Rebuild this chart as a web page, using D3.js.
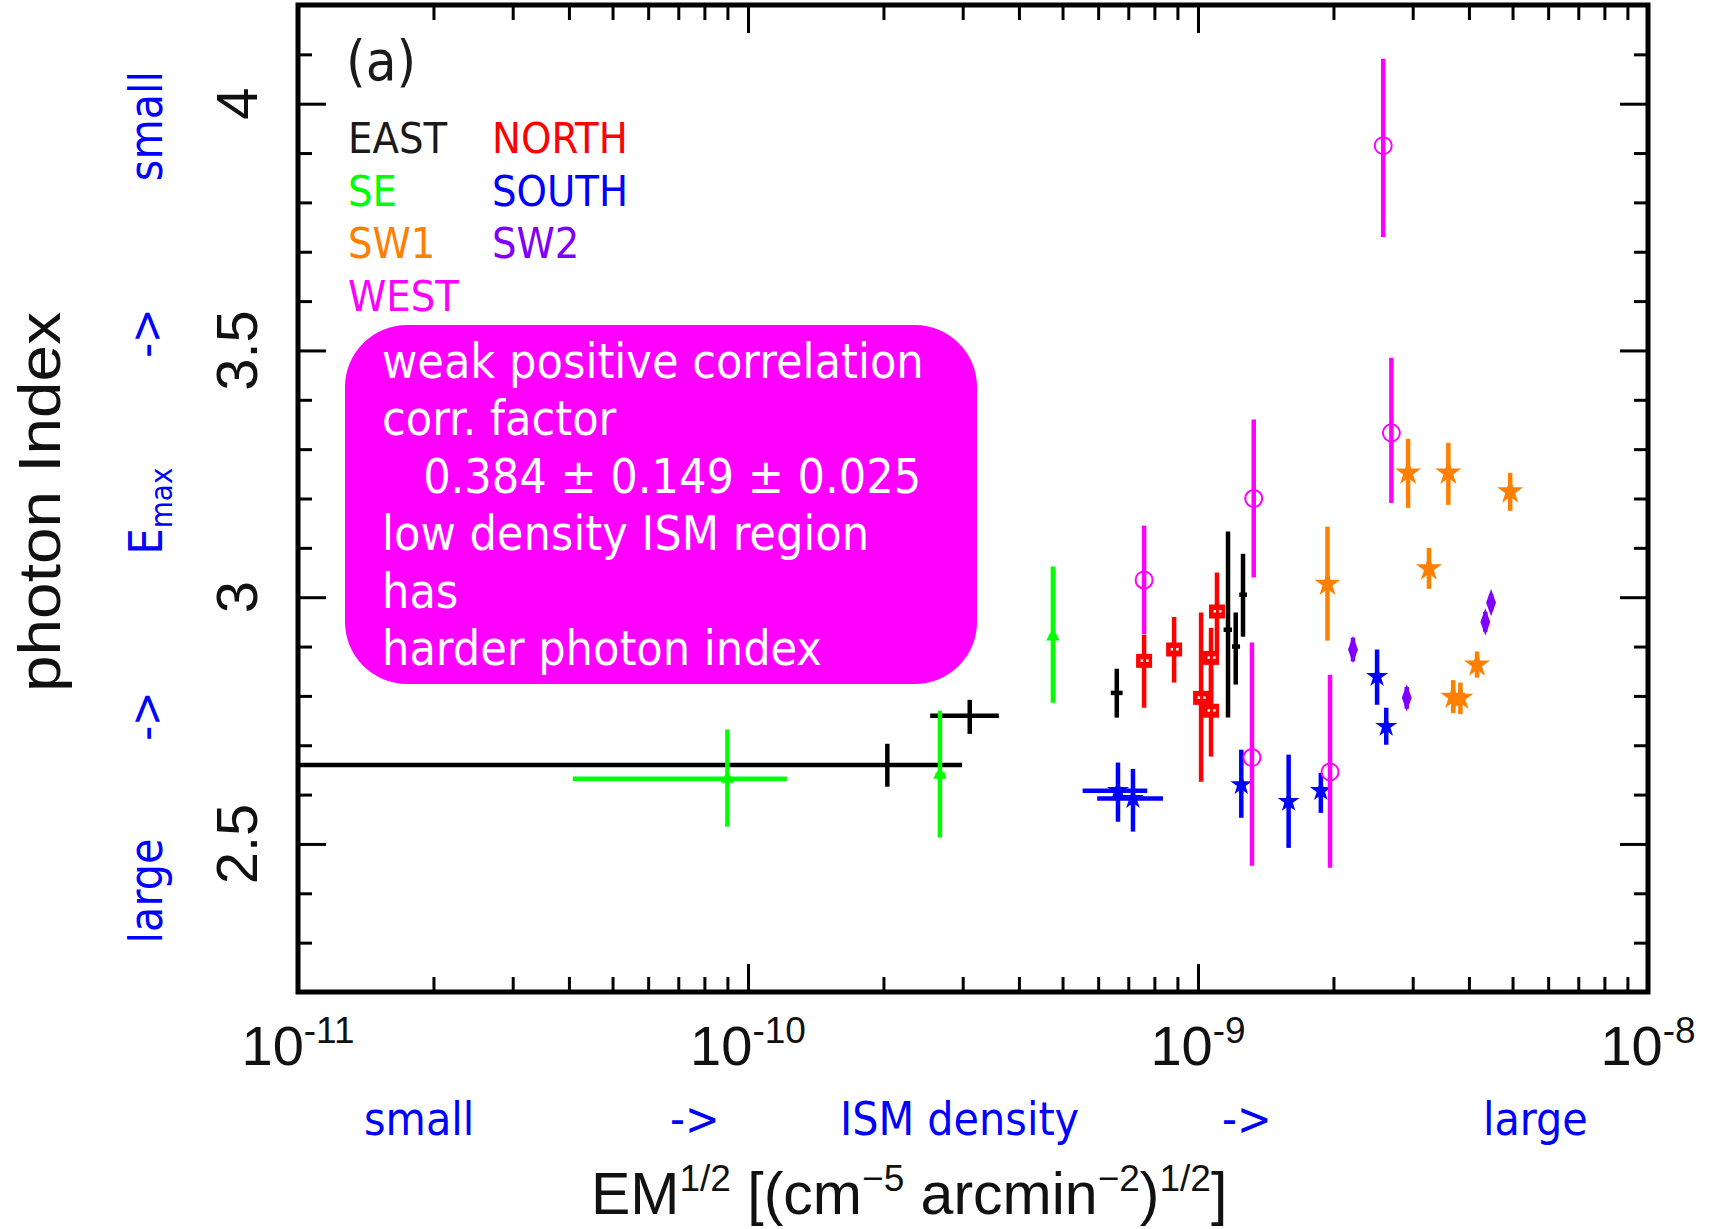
<!DOCTYPE html>
<html>
<head>
<meta charset="utf-8">
<script src="https://cdn.jsdelivr.net/npm/d3@7"></script>
<style>
body { margin: 0; background: #fff; }
</style>
</head>
<body>
<svg id="chart" width="1716" height="1229"></svg>
<script>
// each row: [x, xlo, xhi, y, ylo, yhi]
var east = [
    [2.04e-10, 5e-12, 2.99e-10, 2.660, 2.616, 2.703],
    [3.11e-10, 2.54e-10, 3.61e-10, 2.760, 2.723, 2.792],
    [6.60e-10, 6.40e-10, 6.80e-10, 2.806, 2.756, 2.855],
    [1.166e-9, 1.14e-9, 1.19e-9, 2.934, 2.756, 3.133],
    [1.213e-9, 1.19e-9, 1.24e-9, 2.900, 2.823, 2.969],
    [1.259e-9, 1.235e-9, 1.285e-9, 3.005, 2.920, 3.088]
];
var north = [
    [7.59e-10, 7.40e-10, 7.75e-10, 2.871, 2.776, 2.924],
    [8.85e-10, 8.65e-10, 9.05e-10, 2.894, 2.827, 2.960],
    [1.016e-9, 0.99e-9, 1.04e-9, 2.796, 2.626, 2.969],
    [1.069e-9, 1.045e-9, 1.09e-9, 2.877, 2.792, 2.938],
    [1.069e-9, 1.045e-9, 1.09e-9, 2.770, 2.677, 2.857],
    [1.102e-9, 1.08e-9, 1.125e-9, 2.971, 2.888, 3.050]
];
var se = [
    [9.0e-11, 4.08e-11, 1.22e-10, 2.632, 2.535, 2.732],
    [2.67e-10, 2.61e-10, 2.74e-10, 2.640, 2.513, 2.770],
    [4.76e-10, 4.66e-10, 4.86e-10, 2.920, 2.786, 3.062]
];
var south = [
    [6.64e-10, 5.54e-10, 7.71e-10, 2.608, 2.545, 2.665],
    [7.17e-10, 5.97e-10, 8.36e-10, 2.592, 2.525, 2.652],
    [1.248e-9, 1.22e-9, 1.275e-9, 2.620, 2.553, 2.691],
    [1.59e-9, 1.555e-9, 1.625e-9, 2.586, 2.492, 2.681],
    [1.875e-9, 1.84e-9, 1.91e-9, 2.608, 2.563, 2.644],
    [2.50e-9, 2.45e-9, 2.55e-9, 2.839, 2.782, 2.894],
    [2.62e-9, 2.57e-9, 2.67e-9, 2.738, 2.701, 2.776]
];
var sw1 = [
    [1.94e-9, 1.90e-9, 1.98e-9, 3.027, 2.912, 3.143],
    [3.26e-9, 3.19e-9, 3.33e-9, 3.058, 3.017, 3.100],
    [3.69e-9, 3.61e-9, 3.77e-9, 2.798, 2.765, 2.832],
    [3.83e-9, 3.75e-9, 3.91e-9, 2.796, 2.763, 2.827],
    [4.17e-9, 4.08e-9, 4.26e-9, 2.863, 2.837, 2.890],
    [2.93e-9, 2.87e-9, 2.99e-9, 3.252, 3.181, 3.321],
    [3.60e-9, 3.52e-9, 3.68e-9, 3.252, 3.187, 3.313],
    [4.94e-9, 4.84e-9, 5.04e-9, 3.214, 3.175, 3.252]
];
var sw2 = [
    [2.21e-9, 2.17e-9, 2.25e-9, 2.894, 2.870, 2.918],
    [2.91e-9, 2.86e-9, 2.96e-9, 2.796, 2.774, 2.818],
    [4.35e-9, 4.28e-9, 4.42e-9, 2.950, 2.930, 2.970],
    [4.48e-9, 4.41e-9, 4.55e-9, 2.989, 2.972, 3.006]
];
var west = [
    [7.59e-10, 7.59e-10, 7.59e-10, 3.035, 2.925, 3.145],
    [1.33e-9, 1.33e-9, 1.33e-9, 3.200, 3.040, 3.360],
    [1.318e-9, 1.318e-9, 1.318e-9, 2.675, 2.456, 2.908],
    [1.965e-9, 1.965e-9, 1.965e-9, 2.646, 2.452, 2.843],
    [2.58e-9, 2.58e-9, 2.58e-9, 3.915, 3.730, 4.091],
    [2.69e-9, 2.69e-9, 2.69e-9, 3.333, 3.191, 3.485]
];

var legendNames = ['EAST', 'NORTH', 'SE', 'SOUTH', 'SW1', 'SW2', 'WEST'];
var legendColors = ['#000000', '#ff0000', '#00ff00', '#0000ff', '#ff8000', '#8000ff', '#ff00ff'];

var xTickExponents = [-11, -10, -9, -8];
var yTickLabels = [2.5, 3, 3.5, 4];

var noteLines = [
    'weak positive correlation',
    'corr. factor',
    '   0.384 \u00b1 0.149 \u00b1 0.025',
    'low density ISM region',
    'has',
    'harder photon index'
];

var svg = d3.select('#chart');

// plot frame (window.top is read-only, so no bare "top")
var pL = 298, pR = 1648, pT = 5, pB = 992;

var x = d3.scaleLog().domain([1e-11, 1e-8]).range([pL, pR]),
    y = d3.scaleLinear().domain([2.2, 4.2]).range([pB, pT]);

var tickFont = "'Liberation Sans', Arial, sans-serif",
    narrowFont = "'Liberation Sans Narrow', 'DejaVu Sans Condensed', sans-serif",
    noteFont = "'DejaVu Sans Condensed', 'DejaVu Sans', sans-serif";

// ticks
var majorX = xTickExponents.map(function(e) { return Math.pow(10, e); }),
    minorX = [];
xTickExponents.slice(0, -1).forEach(function(e) {
    for (var k = 2; k < 10; k++) minorX.push(k * Math.pow(10, e));
});
var majorY = [2.5, 3, 3.5, 4],
    minorY = [2.3, 2.4, 2.6, 2.7, 2.8, 2.9, 3.1, 3.2, 3.3, 3.4, 3.6, 3.7, 3.8, 3.9, 4.1];

function addAxis(axis, tx, ty) {
    var g = svg.append('g')
        .attr('transform', 'translate(' + tx + ',' + ty + ')')
        .call(axis);
    g.select('.domain').remove();
    g.selectAll('text').remove();
    g.selectAll('line').attr('stroke', '#000').attr('stroke-width', 3);
}

[[majorX, 28], [minorX, 15]].forEach(function(t) {
    addAxis(d3.axisBottom(x).tickValues(t[0]).tickSize(-t[1]).tickSizeOuter(0), 0, pB);
    addAxis(d3.axisTop(x).tickValues(t[0]).tickSize(-t[1]).tickSizeOuter(0), 0, pT);
});
[[majorY, 28], [minorY, 14]].forEach(function(t) {
    addAxis(d3.axisLeft(y).tickValues(t[0]).tickSize(-t[1]).tickSizeOuter(0), pL, 0);
    addAxis(d3.axisRight(y).tickValues(t[0]).tickSize(-t[1]).tickSizeOuter(0), pR, 0);
});

// frame
svg.append('rect')
    .attr('x', pL).attr('y', pT)
    .attr('width', pR - pL).attr('height', pB - pT)
    .attr('fill', 'none').attr('stroke', '#000').attr('stroke-width', 5);

// x tick labels
var xl = svg.append('g').attr('font-family', tickFont).attr('font-size', 56).attr('fill', '#111');
xTickExponents.forEach(function(e) {
    var t = xl.append('text')
        .attr('x', x(Math.pow(10, e)))
        .attr('y', 1065)
        .attr('text-anchor', 'middle');
    t.append('tspan').text('10');
    t.append('tspan').attr('dy', -22).attr('font-size', 37).text('-' + Math.abs(e));
});

// y tick labels (rotated)
yTickLabels.forEach(function(v) {
    svg.append('text')
        .attr('transform', 'translate(257,' + y(v) + ') rotate(-90)')
        .attr('text-anchor', 'middle')
        .attr('font-family', tickFont).attr('font-size', 58).attr('fill', '#111')
        .text(v);
});

// axis titles
var xt = svg.append('text')
    .attr('x', 591).attr('y', 1214)
    .attr('font-family', tickFont).attr('font-size', 59).attr('fill', '#111');
xt.append('tspan').text('EM');
xt.append('tspan').attr('dy', -23).attr('font-size', 37).text('1/2');
xt.append('tspan').attr('dy', 23).text(' [(cm');
xt.append('tspan').attr('dy', -23).attr('font-size', 37).text('\u22125');
xt.append('tspan').attr('dy', 23).text(' arcmin');
xt.append('tspan').attr('dy', -23).attr('font-size', 37).text('\u22122');
xt.append('tspan').attr('dy', 23).text(')');
xt.append('tspan').attr('dy', -23).attr('font-size', 37).text('1/2');
xt.append('tspan').attr('dy', 23).text(']');

svg.append('text')
    .attr('transform', 'translate(60,502) rotate(-90)')
    .attr('text-anchor', 'middle')
    .attr('font-family', tickFont).attr('font-size', 60).attr('fill', '#111')
    .attr('textLength', 380).attr('lengthAdjust', 'spacingAndGlyphs')
    .text('photon Index');

// blue hint texts
var blue = '#0000ff';
[['small', 364], ['->', 670], ['ISM density', 840], ['->', 1222], ['large', 1483]].forEach(function(d) {
    svg.append('text')
        .attr('x', d[1]).attr('y', 1135)
        .attr('font-family', noteFont).attr('font-size', 46).attr('fill', blue)
        .text(d[0]);
});
[['small', 126], ['->', 333], ['->', 716], ['large', 891]].forEach(function(d) {
    svg.append('text')
        .attr('transform', 'translate(162,' + d[1] + ') rotate(-90)')
        .attr('text-anchor', 'middle')
        .attr('font-family', noteFont).attr('font-size', 46).attr('fill', blue)
        .text(d[0]);
});
var em = svg.append('text')
    .attr('transform', 'translate(162,511) rotate(-90)')
    .attr('text-anchor', 'middle')
    .attr('font-family', noteFont).attr('font-size', 46).attr('fill', blue);
em.append('tspan').text('E');
em.append('tspan').attr('dy', 10).attr('font-size', 31).text('max');

// data
svg.append('clipPath').attr('id', 'plotclip').append('rect')
    .attr('x', pL).attr('y', pT).attr('width', pR - pL).attr('height', pB - pT);
var plot = svg.append('g').attr('clip-path', 'url(#plotclip)');

var symStar = d3.symbol().type(d3.symbolStar).size(150),
    symTri = d3.symbol().type(d3.symbolTriangle).size(80),
    symDiamond = d3.symbol().type(d3.symbolDiamond).size(150),
    symAsterisk = d3.symbol().type(d3.symbolStar).size(210);

function drawSeries(rows, color, marker) {
    var g = plot.append('g').attr('stroke', color).attr('stroke-width', 4.5).attr('fill', 'none');
    rows.forEach(function(r) {
        var cx = x(r[0]), cy = y(r[3]);
        g.append('line')
            .attr('x1', cx).attr('x2', cx)
            .attr('y1', y(r[4])).attr('y2', y(r[5]));
        if (r[1] !== r[2]) {
            g.append('line')
                .attr('x1', x(r[1])).attr('x2', x(r[2]))
                .attr('y1', cy).attr('y2', cy);
        }
        if (marker === 'square') {
            g.append('rect')
                .attr('x', cx - 8).attr('y', cy - 7).attr('width', 16).attr('height', 14)
                .attr('fill', color).attr('stroke', 'none');
            [-3.5, 2].forEach(function(dx) {
                g.append('rect')
                    .attr('x', cx + dx).attr('y', cy - 1.5).attr('width', 2.5).attr('height', 2.5)
                    .attr('fill', '#fff').attr('stroke', 'none');
            });
        } else if (marker === 'circle') {
            g.append('circle').attr('cx', cx).attr('cy', cy).attr('r', 8.5)
                .attr('stroke-width', 2);
        } else if (marker) {
            g.append('path')
                .attr('transform', 'translate(' + cx + ',' + cy + ')' + (marker === symDiamond ? ' scale(0.75,1.2)' : ''))
                .attr('d', marker)
                .attr('fill', color).attr('stroke', 'none');
        }
    });
}

drawSeries(south, legendColors[3], symStar);
drawSeries(west, legendColors[6], 'circle');
drawSeries(north, legendColors[1], 'square');
drawSeries(east, legendColors[0], null);
drawSeries(se, legendColors[2], symTri);
drawSeries(sw1, legendColors[4], symAsterisk);
drawSeries(sw2, legendColors[5], symDiamond);

// legend
svg.append('text')
    .attr('x', 346).attr('y', 80)
    .attr('font-family', narrowFont).attr('font-size', 56).attr('fill', '#1a1a1a')
    .text('(a)');
legendNames.forEach(function(name, i) {
    svg.append('text')
        .attr('x', i % 2 ? 492 : 348)
        .attr('y', 153 + Math.floor(i / 2) * 52.7)
        .attr('font-family', narrowFont).attr('font-size', 43)
        .attr('fill', legendColors[i] === '#000000' ? '#1a1a1a' : legendColors[i])
        .text(name);
});

// note box
svg.append('rect')
    .attr('x', 345).attr('y', 325).attr('width', 632).attr('height', 359)
    .attr('rx', 62).attr('fill', '#ff00ff');
noteLines.forEach(function(line, i) {
    svg.append('text')
        .attr('x', 382).attr('y', 378 + i * 57.4)
        .attr('font-family', noteFont).attr('font-size', 48).attr('fill', '#fff')
        .style('white-space', 'pre')
        .text(line);
});
</script>
</body>
</html>
